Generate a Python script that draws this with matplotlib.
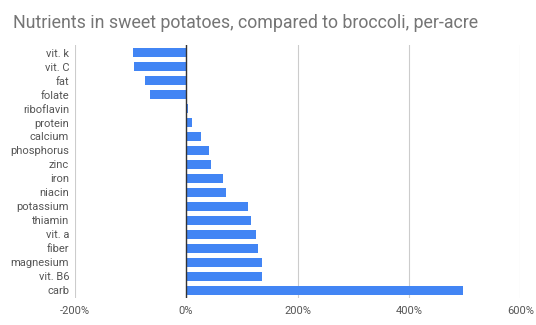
import matplotlib
matplotlib.use("Agg")
import matplotlib.pyplot as plt
import numpy as np

plt.rcParams["font.family"] = ["Roboto", "DejaVu Sans"]

NUTRIENTS = ["vit. k", "vit. C", "fat", "folate", "riboflavin", "protein",
             "calcium", "phosphorus", "zinc", "iron", "niacin", "potassium",
             "thiamin", "vit. a", "fiber", "magnesium", "vit. B6", "carb"]
PCT_DIFF = [-95, -94, -73, -64, 3, 10, 26, 41, 44, 66, 72, 111,
            117, 126, 129, 136, 137, 498]
X_TICKS = [-200, 0, 200, 400, 600]

BAR_COLOR = "#4285F4"
TEXT_COLOR = "#555555"

fig = plt.figure(figsize=(5.36, 3.25), dpi=100)
ax = fig.add_axes([0.1394, 0.083, 0.8313, 0.7785])

y = np.arange(len(NUTRIENTS))
ax.barh(y, PCT_DIFF, height=0.65, color=BAR_COLOR, zorder=3)

ax.set_xlim(-200, 600)
ax.set_ylim(17.57, -0.55)
ax.set_xticks(X_TICKS)
ax.set_xticklabels([f"{t}%" for t in X_TICKS], fontsize=8, color=TEXT_COLOR)
ax.set_yticks(y)
ax.set_yticklabels(NUTRIENTS, fontsize=8, color=TEXT_COLOR)
ax.tick_params(length=0, pad=4)
ax.tick_params(axis="x", pad=6)

ax.grid(axis="x", color="#cccccc", linewidth=0.8, zorder=0)
ax.axvline(0, color="#333333", linewidth=1.0, zorder=4)
for s in ax.spines.values():
    s.set_visible(False)

fig.text(0.024, 0.93, "Nutrients in sweet potatoes, compared to broccoli, per-acre",
         fontsize=12.8, color="#757575", ha="left", va="center")

fig.savefig("out.png", dpi=100)
